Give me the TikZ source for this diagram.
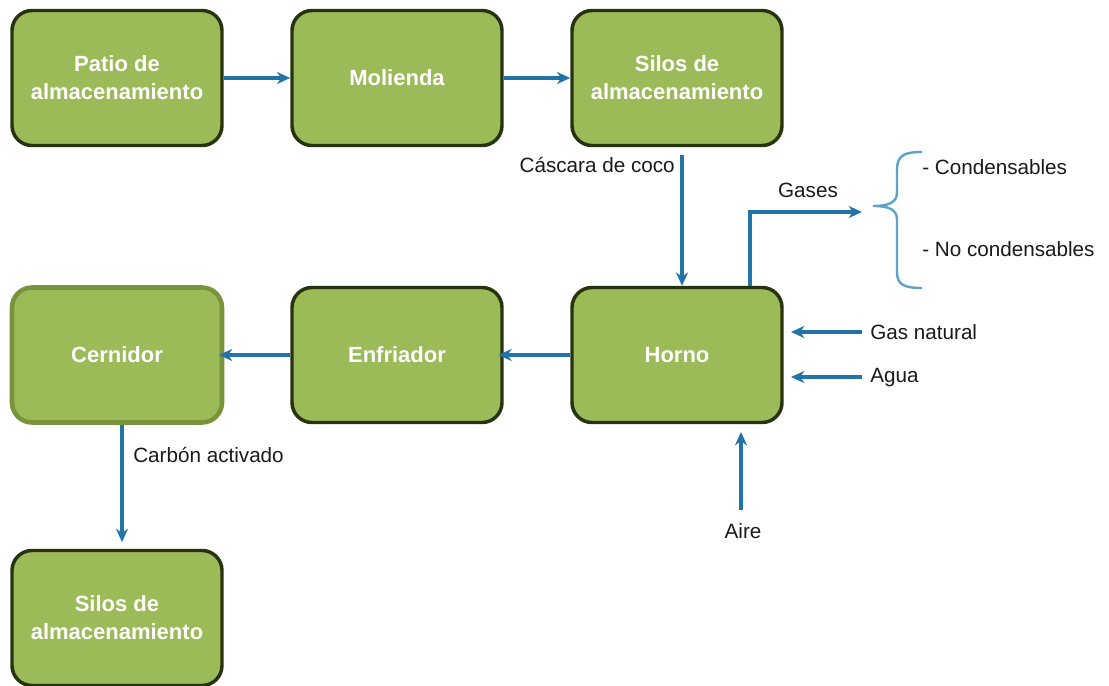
\documentclass[tikz,border=0pt]{standalone}
\usepackage{fontspec}
\setmainfont{Liberation Sans}
\usetikzlibrary{arrows.meta}
\definecolor{boxfill}{HTML}{9BBB59}
\definecolor{boxedge}{HTML}{26330F}
\definecolor{lightedge}{HTML}{77933C}
\definecolor{arrowblue}{HTML}{2273A8}
\definecolor{braceblue}{HTML}{5DA3C9}
\definecolor{txt}{HTML}{1A1A1A}
\tikzset{
  procbox/.style={draw=boxedge, line width=2.6pt, fill=boxfill, rounded corners=15pt,
    minimum width=157.5pt, minimum height=101.25pt, align=center,
    text=white, font=\fontsize{16.5}{21}\selectfont\bfseries},
  lightbox/.style={procbox, draw=lightedge, line width=3.4pt},
  arr/.style={draw=arrowblue, line width=3pt, -{Stealth[length=10pt,width=9pt]}},
  lbl/.style={text=txt, font=\fontsize{15.5}{18}\selectfont, inner sep=0pt},
  bracestyle/.style={draw=braceblue, line width=1.8pt}
}
\begin{document}
\begin{tikzpicture}[x=0.75pt,y=-0.75pt]
\useasboundingbox (0,0) rectangle (1109,685);
% boxes
\node[procbox] (patio) at (117,78) {Patio de\\almacenamiento};
\node[procbox] (molienda) at (397,78) {Molienda};
\node[procbox] (silos) at (677,78) {Silos de\\almacenamiento};
\node[procbox] (horno) at (677,355) {Horno};
\node[procbox] (enfriador) at (397,355) {Enfriador};
\node[lightbox] (cernidor) at (117,355) {Cernidor};
\node[procbox] (silosb) at (117,618) {Silos de\\almacenamiento};
% top row arrows
\draw[arr] (patio.east) -- (molienda.west);
\draw[arr] (molienda.east) -- (silos.west);
% silos to horno
\coordinate (cStart) at (682,155);
\draw[arr] (cStart) -- (cStart |- horno.north);
\node[lbl, anchor=east] (cascara) at (675,165) {Cáscara de coco};
% gases
\coordinate (gUp) at (750,212);
\coordinate (gTip) at (862,212);
\draw[arr] (gUp |- horno.north) -- (gUp) -- (gTip);
\node[lbl] (gases) at (808,190) {Gases};
% brace
\coordinate (bTip) at (873,206);
\draw[bracestyle] (922,152) .. controls (903,152) and (897,156) .. (897,170)
  -- (897,192) .. controls (897,202) and (890,206) .. (bTip)
  .. controls (890,206) and (897,210) .. (897,220)
  -- (897,272) .. controls (897,284) and (903,288) .. (922,288);
\node[lbl, anchor=west] (cond) at (922,167) {- Condensables};
\node[lbl, anchor=west] (nocond) at (922,249) {- No condensables};
% gas natural and agua
\node[lbl, anchor=west] (gasnat) at (870,332) {Gas natural};
\node[lbl, anchor=west] (agua) at (870,378) {Agua};
\coordinate (gnEnd) at (791,332);
\coordinate (agEnd) at (791,377);
\draw[arr] (gasnat.west) ++(-8,0) -- (gnEnd);
\draw[arr] (agua.west |- agEnd) ++(-8,0) -- (agEnd);
% aire
\node[lbl] (aire) at (743,531) {Aire};
\coordinate (aStart) at (741,510);
\coordinate (aEnd) at (741,432);
\draw[arr] (aStart) -- (aEnd);
% bottom row
\draw[arr] (horno.west) -- ([xshift=-4pt]enfriador.east);
\draw[arr] (enfriador.west) -- ([xshift=-4pt]cernidor.east);
% cernidor to silos
\draw[arr] ([xshift=3.75pt]cernidor.south) -- ([xshift=3.75pt,yshift=5pt]silosb.north);
\node[lbl, anchor=west] (carbon) at (133,455) {Carbón activado};
\end{tikzpicture}
\end{document}
